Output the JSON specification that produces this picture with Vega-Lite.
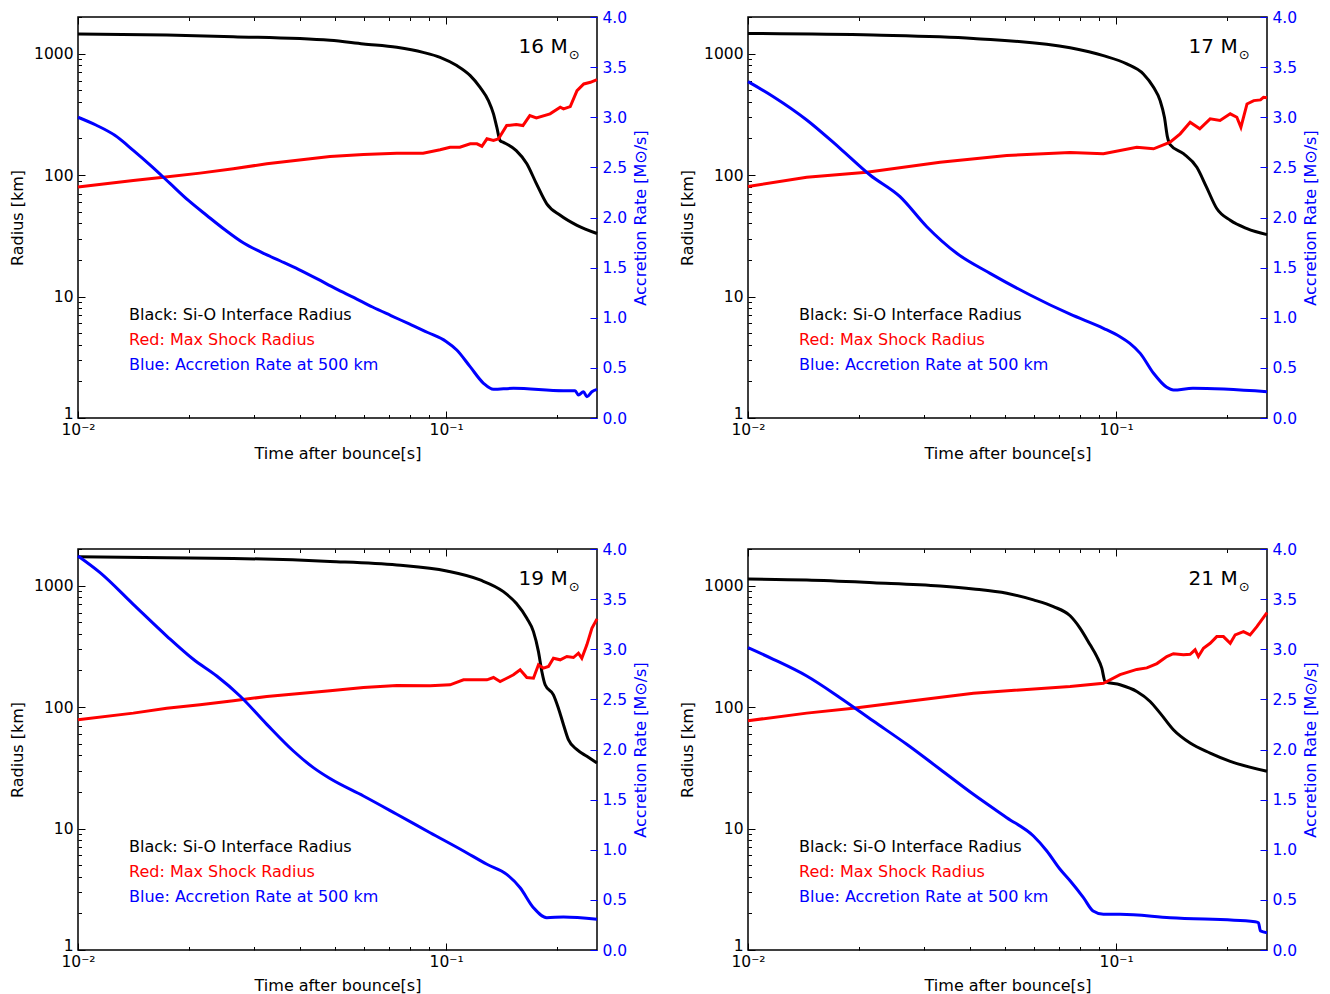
{
"$schema":"https://vega.github.io/schema/vega-lite/v6.json",
"padding":{"left":8,"top":9,"right":5,"bottom":5},
"background":"white",
"datasets":{
"curves":[
{"p":16,"s":"si","t":0.01,"v":1449},{"p":16,"s":"si","t":0.01742,"v":1422},{"p":16,"s":"si","t":0.02642,"v":1377},{"p":16,"s":"si","t":0.04837,"v":1285},{"p":16,"s":"si","t":0.05963,"v":1199},{"p":16,"s":"si","t":0.07346,"v":1125},{"p":16,"s":"si","t":0.0866,"v":1023},{"p":16,"s":"si","t":0.09631,"v":931},{"p":16,"s":"si","t":0.1069,"v":796},{"p":16,"s":"si","t":0.1163,"v":658},{"p":16,"s":"si","t":0.1237,"v":527},{"p":16,"s":"si","t":0.1303,"v":410},{"p":16,"s":"si","t":0.1345,"v":319},{"p":16,"s":"si","t":0.1373,"v":248},{"p":16,"s":"si","t":0.1402,"v":192},{"p":16,"s":"si","t":0.1431,"v":186},{"p":16,"s":"si","t":0.1551,"v":159},{"p":16,"s":"si","t":0.1657,"v":124},{"p":16,"s":"si","t":0.1759,"v":85},{"p":16,"s":"si","t":0.1877,"v":58},{"p":16,"s":"si","t":0.2042,"v":46.6},{"p":16,"s":"si","t":0.2268,"v":38.5},{"p":16,"s":"si","t":0.257,"v":33},
{"p":16,"s":"shock","t":0.01,"v":79.6},{"p":16,"s":"shock","t":0.01413,"v":90.3},{"p":16,"s":"shock","t":0.01705,"v":96.1},{"p":16,"s":"shock","t":0.02145,"v":103.7},{"p":16,"s":"shock","t":0.02642,"v":112.7},{"p":16,"s":"shock","t":0.03258,"v":123.8},{"p":16,"s":"shock","t":0.04837,"v":142.2},{"p":16,"s":"shock","t":0.05963,"v":147.6},{"p":16,"s":"shock","t":0.07346,"v":151.4},{"p":16,"s":"shock","t":0.0866,"v":151.4},{"p":16,"s":"shock","t":0.09631,"v":161.4},{"p":16,"s":"shock","t":0.1025,"v":169.5},{"p":16,"s":"shock","t":0.109,"v":169.5},{"p":16,"s":"shock","t":0.1163,"v":180.7},{"p":16,"s":"shock","t":0.1213,"v":180.7},{"p":16,"s":"shock","t":0.1251,"v":172.7},{"p":16,"s":"shock","t":0.1291,"v":198.8},{"p":16,"s":"shock","t":0.1345,"v":192.4},{"p":16,"s":"shock","t":0.1388,"v":198.8},{"p":16,"s":"shock","t":0.1461,"v":255.6},{"p":16,"s":"shock","t":0.1551,"v":260.6},{"p":16,"s":"shock","t":0.1617,"v":255.6},{"p":16,"s":"shock","t":0.1688,"v":309},{"p":16,"s":"shock","t":0.1759,"v":295.8},{"p":16,"s":"shock","t":0.1916,"v":319},{"p":16,"s":"shock","t":0.2042,"v":361.6},{"p":16,"s":"shock","t":0.2084,"v":350.6},{"p":16,"s":"shock","t":0.2174,"v":366},{"p":16,"s":"shock","t":0.2268,"v":495.5},{"p":16,"s":"shock","t":0.2366,"v":562},{"p":16,"s":"shock","t":0.2467,"v":580},{"p":16,"s":"shock","t":0.257,"v":611},
{"p":16,"s":"acc","t":0.01,"v":3.0},{"p":16,"s":"acc","t":0.01122,"v":2.92},{"p":16,"s":"acc","t":0.01259,"v":2.82},{"p":16,"s":"acc","t":0.01413,"v":2.67},{"p":16,"s":"acc","t":0.01585,"v":2.51},{"p":16,"s":"acc","t":0.01778,"v":2.34},{"p":16,"s":"acc","t":0.01995,"v":2.17},{"p":16,"s":"acc","t":0.02239,"v":2.02},{"p":16,"s":"acc","t":0.02512,"v":1.875},{"p":16,"s":"acc","t":0.02818,"v":1.745},{"p":16,"s":"acc","t":0.03162,"v":1.65},{"p":16,"s":"acc","t":0.03548,"v":1.566},{"p":16,"s":"acc","t":0.03981,"v":1.48},{"p":16,"s":"acc","t":0.04467,"v":1.387},{"p":16,"s":"acc","t":0.05012,"v":1.29},{"p":16,"s":"acc","t":0.05623,"v":1.2},{"p":16,"s":"acc","t":0.0631,"v":1.107},{"p":16,"s":"acc","t":0.07079,"v":1.022},{"p":16,"s":"acc","t":0.07943,"v":0.938},{"p":16,"s":"acc","t":0.08913,"v":0.853},{"p":16,"s":"acc","t":0.1,"v":0.763},{"p":16,"s":"acc","t":0.1069,"v":0.678},{"p":16,"s":"acc","t":0.1162,"v":0.512},{"p":16,"s":"acc","t":0.1264,"v":0.346},{"p":16,"s":"acc","t":0.1345,"v":0.286},{"p":16,"s":"acc","t":0.1524,"v":0.296},{"p":16,"s":"acc","t":0.2084,"v":0.272},{"p":16,"s":"acc","t":0.2241,"v":0.272},{"p":16,"s":"acc","t":0.2288,"v":0.229},{"p":16,"s":"acc","t":0.2361,"v":0.262},{"p":16,"s":"acc","t":0.2412,"v":0.212},{"p":16,"s":"acc","t":0.2489,"v":0.262},{"p":16,"s":"acc","t":0.257,"v":0.286},
{"p":17,"s":"si","t":0.01,"v":1466},{"p":17,"s":"si","t":0.0219,"v":1422},{"p":17,"s":"si","t":0.04095,"v":1333},{"p":17,"s":"si","t":0.07499,"v":1115},{"p":17,"s":"si","t":0.09237,"v":961},{"p":17,"s":"si","t":0.1069,"v":822},{"p":17,"s":"si","t":0.1186,"v":679},{"p":17,"s":"si","t":0.1264,"v":527},{"p":17,"s":"si","t":0.1317,"v":410},{"p":17,"s":"si","t":0.1353,"v":299},{"p":17,"s":"si","t":0.1379,"v":205},{"p":17,"s":"si","t":0.1402,"v":178},{"p":17,"s":"si","t":0.1524,"v":150},{"p":17,"s":"si","t":0.1657,"v":116},{"p":17,"s":"si","t":0.1759,"v":80},{"p":17,"s":"si","t":0.1877,"v":53},{"p":17,"s":"si","t":0.2042,"v":42.4},{"p":17,"s":"si","t":0.2268,"v":36.2},{"p":17,"s":"si","t":0.257,"v":32.3},
{"p":17,"s":"shock","t":0.01,"v":80.6},{"p":17,"s":"shock","t":0.01444,"v":96.1},{"p":17,"s":"shock","t":0.02102,"v":105.6},{"p":17,"s":"shock","t":0.03325,"v":127.7},{"p":17,"s":"shock","t":0.05047,"v":144.9},{"p":17,"s":"shock","t":0.07499,"v":153},{"p":17,"s":"shock","t":0.09237,"v":149.6},{"p":17,"s":"shock","t":0.1138,"v":169.5},{"p":17,"s":"shock","t":0.1264,"v":164.4},{"p":17,"s":"shock","t":0.1402,"v":186.3},{"p":17,"s":"shock","t":0.1493,"v":218.4},{"p":17,"s":"shock","t":0.1589,"v":272.2},{"p":17,"s":"shock","t":0.1688,"v":240},{"p":17,"s":"shock","t":0.1801,"v":290},{"p":17,"s":"shock","t":0.1916,"v":281},{"p":17,"s":"shock","t":0.2042,"v":319},{"p":17,"s":"shock","t":0.2128,"v":299},{"p":17,"s":"shock","t":0.2183,"v":247.6},{"p":17,"s":"shock","t":0.2268,"v":385},{"p":17,"s":"shock","t":0.2366,"v":410},{"p":17,"s":"shock","t":0.2467,"v":415.6},{"p":17,"s":"shock","t":0.2514,"v":436.5},{"p":17,"s":"shock","t":0.257,"v":432},
{"p":17,"s":"acc","t":0.01,"v":3.355},{"p":17,"s":"acc","t":0.01172,"v":3.205},{"p":17,"s":"acc","t":0.01444,"v":2.973},{"p":17,"s":"acc","t":0.01778,"v":2.69},{"p":17,"s":"acc","t":0.02145,"v":2.424},{"p":17,"s":"acc","t":0.02588,"v":2.208},{"p":17,"s":"acc","t":0.0306,"v":1.908},{"p":17,"s":"acc","t":0.0369,"v":1.643},{"p":17,"s":"acc","t":0.04546,"v":1.443},{"p":17,"s":"acc","t":0.05839,"v":1.227},{"p":17,"s":"acc","t":0.07499,"v":1.035},{"p":17,"s":"acc","t":0.09237,"v":0.895},{"p":17,"s":"acc","t":0.1025,"v":0.811},{"p":17,"s":"acc","t":0.109,"v":0.745},{"p":17,"s":"acc","t":0.1163,"v":0.645},{"p":17,"s":"acc","t":0.1264,"v":0.446},{"p":17,"s":"acc","t":0.1373,"v":0.306},{"p":17,"s":"acc","t":0.1431,"v":0.279},{"p":17,"s":"acc","t":0.1617,"v":0.296},{"p":17,"s":"acc","t":0.257,"v":0.262},
{"p":19,"s":"si","t":0.01,"v":1728},{"p":19,"s":"si","t":0.01742,"v":1695},{"p":19,"s":"si","t":0.02642,"v":1673},{"p":19,"s":"si","t":0.04837,"v":1580},{"p":19,"s":"si","t":0.07346,"v":1476},{"p":19,"s":"si","t":0.1004,"v":1318},{"p":19,"s":"si","t":0.1237,"v":1112},{"p":19,"s":"si","t":0.1431,"v":891},{"p":19,"s":"si","t":0.1551,"v":714},{"p":19,"s":"si","t":0.1657,"v":538},{"p":19,"s":"si","t":0.1727,"v":418},{"p":19,"s":"si","t":0.1782,"v":286},{"p":19,"s":"si","t":0.182,"v":196},{"p":19,"s":"si","t":0.1858,"v":152.5},{"p":19,"s":"si","t":0.1957,"v":126.2},{"p":19,"s":"si","t":0.2019,"v":97.9},{"p":19,"s":"si","t":0.2084,"v":71.5},{"p":19,"s":"si","t":0.2149,"v":53.9},{"p":19,"s":"si","t":0.2268,"v":44.6},{"p":19,"s":"si","t":0.2412,"v":39.3},{"p":19,"s":"si","t":0.257,"v":34.6},
{"p":19,"s":"shock","t":0.01,"v":78.7},{"p":19,"s":"shock","t":0.01413,"v":89.1},{"p":19,"s":"shock","t":0.01742,"v":97.9},{"p":19,"s":"shock","t":0.02145,"v":104.4},{"p":19,"s":"shock","t":0.02642,"v":112.6},{"p":19,"s":"shock","t":0.03258,"v":122.2},{"p":19,"s":"shock","t":0.04837,"v":136.1},{"p":19,"s":"shock","t":0.05963,"v":144.9},{"p":19,"s":"shock","t":0.07346,"v":150.4},{"p":19,"s":"shock","t":0.09049,"v":149.6},{"p":19,"s":"shock","t":0.1025,"v":152.5},{"p":19,"s":"shock","t":0.1115,"v":167.6},{"p":19,"s":"shock","t":0.1291,"v":167.6},{"p":19,"s":"shock","t":0.1345,"v":175},{"p":19,"s":"shock","t":0.1402,"v":162.3},{"p":19,"s":"shock","t":0.1461,"v":172.7},{"p":19,"s":"shock","t":0.1524,"v":184.2},{"p":19,"s":"shock","t":0.1589,"v":202.6},{"p":19,"s":"shock","t":0.1657,"v":175},{"p":19,"s":"shock","t":0.1727,"v":172.7},{"p":19,"s":"shock","t":0.1782,"v":222.6},{"p":19,"s":"shock","t":0.1838,"v":208.8},{"p":19,"s":"shock","t":0.1897,"v":215.7},{"p":19,"s":"shock","t":0.1957,"v":252.5},{"p":19,"s":"shock","t":0.2042,"v":244.8},{"p":19,"s":"shock","t":0.2128,"v":260.6},{"p":19,"s":"shock","t":0.2218,"v":255.6},{"p":19,"s":"shock","t":0.2288,"v":277.3},{"p":19,"s":"shock","t":0.2337,"v":252.5},{"p":19,"s":"shock","t":0.2412,"v":325},{"p":19,"s":"shock","t":0.2489,"v":444.7},{"p":19,"s":"shock","t":0.257,"v":531.6},
{"p":19,"s":"acc","t":0.01,"v":3.93},{"p":19,"s":"acc","t":0.01148,"v":3.764},{"p":19,"s":"acc","t":0.01413,"v":3.448},{"p":19,"s":"acc","t":0.01742,"v":3.132},{"p":19,"s":"acc","t":0.02057,"v":2.9},{"p":19,"s":"acc","t":0.02382,"v":2.733},{"p":19,"s":"acc","t":0.02755,"v":2.534},{"p":19,"s":"acc","t":0.03258,"v":2.251},{"p":19,"s":"acc","t":0.03847,"v":1.985},{"p":19,"s":"acc","t":0.04359,"v":1.819},{"p":19,"s":"acc","t":0.04837,"v":1.71},{"p":19,"s":"acc","t":0.05963,"v":1.536},{"p":19,"s":"acc","t":0.07346,"v":1.354},{"p":19,"s":"acc","t":0.09049,"v":1.17},{"p":19,"s":"acc","t":0.1115,"v":0.988},{"p":19,"s":"acc","t":0.1291,"v":0.855},{"p":19,"s":"acc","t":0.1461,"v":0.755},{"p":19,"s":"acc","t":0.1589,"v":0.621},{"p":19,"s":"acc","t":0.1727,"v":0.422},{"p":19,"s":"acc","t":0.1877,"v":0.322},{"p":19,"s":"acc","t":0.2084,"v":0.329},{"p":19,"s":"acc","t":0.257,"v":0.306},
{"p":21,"s":"si","t":0.01,"v":1133},{"p":21,"s":"si","t":0.01444,"v":1112},{"p":21,"s":"si","t":0.0219,"v":1057},{"p":21,"s":"si","t":0.03325,"v":993},{"p":21,"s":"si","t":0.04095,"v":938},{"p":21,"s":"si","t":0.05047,"v":863},{"p":21,"s":"si","t":0.05963,"v":762},{"p":21,"s":"si","t":0.06755,"v":671},{"p":21,"s":"si","t":0.07499,"v":564},{"p":21,"s":"si","t":0.07986,"v":445},{"p":21,"s":"si","t":0.08501,"v":325},{"p":21,"s":"si","t":0.0886,"v":261},{"p":21,"s":"si","t":0.09145,"v":209},{"p":21,"s":"si","t":0.09336,"v":162},{"p":21,"s":"si","t":0.1025,"v":152.5},{"p":21,"s":"si","t":0.1138,"v":134.3},{"p":21,"s":"si","t":0.1237,"v":111.2},{"p":21,"s":"si","t":0.1317,"v":89.1},{"p":21,"s":"si","t":0.1431,"v":65},{"p":21,"s":"si","t":0.1589,"v":50.5},{"p":21,"s":"si","t":0.1801,"v":41.8},{"p":21,"s":"si","t":0.2042,"v":35.7},{"p":21,"s":"si","t":0.257,"v":29.6},
{"p":21,"s":"shock","t":0.01,"v":77.2},{"p":21,"s":"shock","t":0.01444,"v":89.1},{"p":21,"s":"shock","t":0.01932,"v":97.9},{"p":21,"s":"shock","t":0.02699,"v":111.2},{"p":21,"s":"shock","t":0.04095,"v":130},{"p":21,"s":"shock","t":0.07499,"v":147.6},{"p":21,"s":"shock","t":0.09237,"v":157},{"p":21,"s":"shock","t":0.1025,"v":185},{"p":21,"s":"shock","t":0.1138,"v":204},{"p":21,"s":"shock","t":0.1212,"v":210},{"p":21,"s":"shock","t":0.1291,"v":228},{"p":21,"s":"shock","t":0.1373,"v":260.6},{"p":21,"s":"shock","t":0.1431,"v":275},{"p":21,"s":"shock","t":0.1524,"v":269},{"p":21,"s":"shock","t":0.1589,"v":272},{"p":21,"s":"shock","t":0.1639,"v":296},{"p":21,"s":"shock","t":0.1673,"v":261},{"p":21,"s":"shock","t":0.1727,"v":305},{"p":21,"s":"shock","t":0.1801,"v":335},{"p":21,"s":"shock","t":0.1877,"v":380},{"p":21,"s":"shock","t":0.1957,"v":380},{"p":21,"s":"shock","t":0.2042,"v":335},{"p":21,"s":"shock","t":0.2106,"v":393},{"p":21,"s":"shock","t":0.2218,"v":418},{"p":21,"s":"shock","t":0.2312,"v":393},{"p":21,"s":"shock","t":0.2412,"v":459},{"p":21,"s":"shock","t":0.257,"v":600},
{"p":21,"s":"acc","t":0.01,"v":3.016},{"p":21,"s":"acc","t":0.01172,"v":2.9},{"p":21,"s":"acc","t":0.01444,"v":2.733},{"p":21,"s":"acc","t":0.01778,"v":2.517},{"p":21,"s":"acc","t":0.0219,"v":2.284},{"p":21,"s":"acc","t":0.02699,"v":2.052},{"p":21,"s":"acc","t":0.03325,"v":1.803},{"p":21,"s":"acc","t":0.04095,"v":1.553},{"p":21,"s":"acc","t":0.05047,"v":1.32},{"p":21,"s":"acc","t":0.05963,"v":1.137},{"p":21,"s":"acc","t":0.06483,"v":0.988},{"p":21,"s":"acc","t":0.07043,"v":0.805},{"p":21,"s":"acc","t":0.07499,"v":0.69},{"p":21,"s":"acc","t":0.08152,"v":0.522},{"p":21,"s":"acc","t":0.0866,"v":0.389},{"p":21,"s":"acc","t":0.09237,"v":0.356},{"p":21,"s":"acc","t":0.1025,"v":0.356},{"p":21,"s":"acc","t":0.1402,"v":0.322},{"p":21,"s":"acc","t":0.2386,"v":0.282},{"p":21,"s":"acc","t":0.2436,"v":0.272},{"p":21,"s":"acc","t":0.2467,"v":0.19},{"p":21,"s":"acc","t":0.257,"v":0.173}
],
"legend":[
{"s":"si","t":0.01376,"a":0.9726,"label":"Black: Si-O Interface Radius"},
{"s":"shock","t":0.01376,"a":0.728,"label":"Red: Max Shock Radius"},
{"s":"acc","t":0.01376,"a":0.479,"label":"Blue: Accretion Rate at 500 km"}
],
"titles":[
{"p":16,"label":"16 M","t":0.2139,"a":3.641,"ts":0.2153,"as":3.586},
{"p":17,"label":"17 M","t":0.2139,"a":3.641,"ts":0.2153,"as":3.586},
{"p":19,"label":"19 M","t":0.2139,"a":3.641,"ts":0.2153,"as":3.586},
{"p":21,"label":"21 M","t":0.2139,"a":3.641,"ts":0.2153,"as":3.586}
]
},
"columns":2,
"bounds":"flush",
"spacing":{"row":131,"column":151},
"concat":[
{"width":519,"height":401,"resolve":{"scale":{"y":"independent"},"axis":{"x":"independent"}},
"layer":[
{"data":{"name":"curves"},"transform":[{"filter":"datum.p==16 && datum.s=='si'"}],"mark":{"type":"line","color":"#000000","strokeWidth":3,"interpolate":"monotone"},
"encoding":{"x":{"field":"t","type":"quantitative","scale":{"type":"log","domain":[0.01,0.257]},"axis":{"orient":"bottom","values":[0.01,0.02,0.03,0.04,0.05,0.06,0.07,0.08,0.09,0.1,0.2],"labelExpr":"datum.value==0.01?'10⁻²':(datum.value==0.1?'10⁻¹':'')","tickSize":{"condition":{"test":"datum.value==0.01||datum.value==0.1","value":-7},"value":-3.5},"title":"Time after bounce[s]","labelFlush":false,"labelOverlap":false,"labelPadding":11,"titlePadding":4,"domain":false,"grid":false}},
"y":{"field":"v","type":"quantitative","scale":{"type":"log","domain":[1,2000]},"axis":{"orient":"left","values":[1,2,3,4,5,6,7,8,9,10,20,30,40,50,60,70,80,90,100,200,300,400,500,600,700,800,900,1000,2000],"labelExpr":"(datum.value==1||datum.value==10||datum.value==100||datum.value==1000)?datum.value+'':''","labelBaseline":{"condition":{"test":"datum.value==1","value":"alphabetic"},"value":"middle"},"tickSize":{"condition":{"test":"datum.value==1||datum.value==10||datum.value==100||datum.value==1000","value":-7},"value":-3.5},"title":"Radius [km]","labelOverlap":false,"labelFlush":false,"labelPadding":12,"titlePadding":8,"domain":false,"grid":false}}}},
{"data":{"name":"curves"},"transform":[{"filter":"datum.p==16 && datum.s=='shock'"}],"mark":{"type":"line","color":"#ff0000","strokeWidth":3},
"encoding":{"x":{"field":"t","type":"quantitative","scale":{"type":"log","domain":[0.01,0.257]},"axis":null},"y":{"field":"v","type":"quantitative","scale":{"type":"log","domain":[1,2000]},"axis":null}}},
{"data":{"name":"curves"},"transform":[{"filter":"datum.p==16 && datum.s=='acc'"}],"mark":{"type":"line","color":"#0000ff","strokeWidth":3,"interpolate":"monotone"},
"encoding":{"x":{"field":"t","type":"quantitative","scale":{"type":"log","domain":[0.01,0.257]},"axis":{"orient":"top","values":[0.01,0.02,0.03,0.04,0.05,0.06,0.07,0.08,0.09,0.1,0.2],"labels":false,"title":null,"tickSize":{"condition":{"test":"datum.value==0.01||datum.value==0.1","value":-7},"value":-3.5},"domain":false,"grid":false}},
"y":{"field":"v","type":"quantitative","scale":{"type":"linear","domain":[0,4]},"axis":{"orient":"right","values":[0,0.5,1,1.5,2,2.5,3,3.5,4],"format":".1f","tickSize":-7,"tickColor":"#0000ff","labelColor":"#0000ff","title":"Accretion Rate [M⊙/s]","titleColor":"#0000ff","titleAngle":270,"titleBaseline":"top","labelPadding":12,"titlePadding":6,"domain":false,"grid":false,"labelFlush":false,"labelOverlap":false}}}},
{"data":{"name":"legend"},"mark":{"type":"text","align":"left","baseline":"alphabetic","fontSize":16,"font":"DejaVu Sans"},
"encoding":{"x":{"field":"t","type":"quantitative","scale":{"type":"log","domain":[0.01,0.257]},"axis":null},"y":{"field":"a","type":"quantitative","scale":{"type":"linear","domain":[0,4]},"axis":null},"text":{"field":"label"},"color":{"field":"s","type":"nominal","scale":{"domain":["si","shock","acc"],"range":["#000000","#ff0000","#0000ff"]},"legend":null}}},
{"data":{"name":"titles"},"transform":[{"filter":"datum.p==16"}],"mark":{"type":"text","align":"right","baseline":"alphabetic","fontSize":20,"font":"DejaVu Sans","color":"#000000"},
"encoding":{"x":{"field":"t","type":"quantitative","scale":{"type":"log","domain":[0.01,0.257]},"axis":null},"y":{"field":"a","type":"quantitative","scale":{"type":"linear","domain":[0,4]},"axis":null},"text":{"field":"label"}}},
{"data":{"name":"titles"},"transform":[{"filter":"datum.p==16"}],"mark":{"type":"text","align":"left","baseline":"alphabetic","fontSize":13,"font":"DejaVu Sans","color":"#000000"},
"encoding":{"x":{"field":"ts","type":"quantitative","scale":{"type":"log","domain":[0.01,0.257]},"axis":null},"y":{"field":"as","type":"quantitative","scale":{"type":"linear","domain":[0,4]},"axis":null},"text":{"value":"⊙"}}}
]},
{"width":519,"height":401,"resolve":{"scale":{"y":"independent"},"axis":{"x":"independent"}},
"layer":[
{"data":{"name":"curves"},"transform":[{"filter":"datum.p==17 && datum.s=='si'"}],"mark":{"type":"line","color":"#000000","strokeWidth":3,"interpolate":"monotone"},
"encoding":{"x":{"field":"t","type":"quantitative","scale":{"type":"log","domain":[0.01,0.257]},"axis":{"orient":"bottom","values":[0.01,0.02,0.03,0.04,0.05,0.06,0.07,0.08,0.09,0.1,0.2],"labelExpr":"datum.value==0.01?'10⁻²':(datum.value==0.1?'10⁻¹':'')","tickSize":{"condition":{"test":"datum.value==0.01||datum.value==0.1","value":-7},"value":-3.5},"title":"Time after bounce[s]","labelFlush":false,"labelOverlap":false,"labelPadding":11,"titlePadding":4,"domain":false,"grid":false}},
"y":{"field":"v","type":"quantitative","scale":{"type":"log","domain":[1,2000]},"axis":{"orient":"left","values":[1,2,3,4,5,6,7,8,9,10,20,30,40,50,60,70,80,90,100,200,300,400,500,600,700,800,900,1000,2000],"labelExpr":"(datum.value==1||datum.value==10||datum.value==100||datum.value==1000)?datum.value+'':''","labelBaseline":{"condition":{"test":"datum.value==1","value":"alphabetic"},"value":"middle"},"tickSize":{"condition":{"test":"datum.value==1||datum.value==10||datum.value==100||datum.value==1000","value":-7},"value":-3.5},"title":"Radius [km]","labelOverlap":false,"labelFlush":false,"labelPadding":12,"titlePadding":8,"domain":false,"grid":false}}}},
{"data":{"name":"curves"},"transform":[{"filter":"datum.p==17 && datum.s=='shock'"}],"mark":{"type":"line","color":"#ff0000","strokeWidth":3},
"encoding":{"x":{"field":"t","type":"quantitative","scale":{"type":"log","domain":[0.01,0.257]},"axis":null},"y":{"field":"v","type":"quantitative","scale":{"type":"log","domain":[1,2000]},"axis":null}}},
{"data":{"name":"curves"},"transform":[{"filter":"datum.p==17 && datum.s=='acc'"}],"mark":{"type":"line","color":"#0000ff","strokeWidth":3,"interpolate":"monotone"},
"encoding":{"x":{"field":"t","type":"quantitative","scale":{"type":"log","domain":[0.01,0.257]},"axis":{"orient":"top","values":[0.01,0.02,0.03,0.04,0.05,0.06,0.07,0.08,0.09,0.1,0.2],"labels":false,"title":null,"tickSize":{"condition":{"test":"datum.value==0.01||datum.value==0.1","value":-7},"value":-3.5},"domain":false,"grid":false}},
"y":{"field":"v","type":"quantitative","scale":{"type":"linear","domain":[0,4]},"axis":{"orient":"right","values":[0,0.5,1,1.5,2,2.5,3,3.5,4],"format":".1f","tickSize":-7,"tickColor":"#0000ff","labelColor":"#0000ff","title":"Accretion Rate [M⊙/s]","titleColor":"#0000ff","titleAngle":270,"titleBaseline":"top","labelPadding":12,"titlePadding":6,"domain":false,"grid":false,"labelFlush":false,"labelOverlap":false}}}},
{"data":{"name":"legend"},"mark":{"type":"text","align":"left","baseline":"alphabetic","fontSize":16,"font":"DejaVu Sans"},
"encoding":{"x":{"field":"t","type":"quantitative","scale":{"type":"log","domain":[0.01,0.257]},"axis":null},"y":{"field":"a","type":"quantitative","scale":{"type":"linear","domain":[0,4]},"axis":null},"text":{"field":"label"},"color":{"field":"s","type":"nominal","scale":{"domain":["si","shock","acc"],"range":["#000000","#ff0000","#0000ff"]},"legend":null}}},
{"data":{"name":"titles"},"transform":[{"filter":"datum.p==17"}],"mark":{"type":"text","align":"right","baseline":"alphabetic","fontSize":20,"font":"DejaVu Sans","color":"#000000"},
"encoding":{"x":{"field":"t","type":"quantitative","scale":{"type":"log","domain":[0.01,0.257]},"axis":null},"y":{"field":"a","type":"quantitative","scale":{"type":"linear","domain":[0,4]},"axis":null},"text":{"field":"label"}}},
{"data":{"name":"titles"},"transform":[{"filter":"datum.p==17"}],"mark":{"type":"text","align":"left","baseline":"alphabetic","fontSize":13,"font":"DejaVu Sans","color":"#000000"},
"encoding":{"x":{"field":"ts","type":"quantitative","scale":{"type":"log","domain":[0.01,0.257]},"axis":null},"y":{"field":"as","type":"quantitative","scale":{"type":"linear","domain":[0,4]},"axis":null},"text":{"value":"⊙"}}}
]},
{"width":519,"height":401,"resolve":{"scale":{"y":"independent"},"axis":{"x":"independent"}},
"layer":[
{"data":{"name":"curves"},"transform":[{"filter":"datum.p==19 && datum.s=='si'"}],"mark":{"type":"line","color":"#000000","strokeWidth":3,"interpolate":"monotone"},
"encoding":{"x":{"field":"t","type":"quantitative","scale":{"type":"log","domain":[0.01,0.257]},"axis":{"orient":"bottom","values":[0.01,0.02,0.03,0.04,0.05,0.06,0.07,0.08,0.09,0.1,0.2],"labelExpr":"datum.value==0.01?'10⁻²':(datum.value==0.1?'10⁻¹':'')","tickSize":{"condition":{"test":"datum.value==0.01||datum.value==0.1","value":-7},"value":-3.5},"title":"Time after bounce[s]","labelFlush":false,"labelOverlap":false,"labelPadding":11,"titlePadding":4,"domain":false,"grid":false}},
"y":{"field":"v","type":"quantitative","scale":{"type":"log","domain":[1,2000]},"axis":{"orient":"left","values":[1,2,3,4,5,6,7,8,9,10,20,30,40,50,60,70,80,90,100,200,300,400,500,600,700,800,900,1000,2000],"labelExpr":"(datum.value==1||datum.value==10||datum.value==100||datum.value==1000)?datum.value+'':''","labelBaseline":{"condition":{"test":"datum.value==1","value":"alphabetic"},"value":"middle"},"tickSize":{"condition":{"test":"datum.value==1||datum.value==10||datum.value==100||datum.value==1000","value":-7},"value":-3.5},"title":"Radius [km]","labelOverlap":false,"labelFlush":false,"labelPadding":12,"titlePadding":8,"domain":false,"grid":false}}}},
{"data":{"name":"curves"},"transform":[{"filter":"datum.p==19 && datum.s=='shock'"}],"mark":{"type":"line","color":"#ff0000","strokeWidth":3},
"encoding":{"x":{"field":"t","type":"quantitative","scale":{"type":"log","domain":[0.01,0.257]},"axis":null},"y":{"field":"v","type":"quantitative","scale":{"type":"log","domain":[1,2000]},"axis":null}}},
{"data":{"name":"curves"},"transform":[{"filter":"datum.p==19 && datum.s=='acc'"}],"mark":{"type":"line","color":"#0000ff","strokeWidth":3,"interpolate":"monotone"},
"encoding":{"x":{"field":"t","type":"quantitative","scale":{"type":"log","domain":[0.01,0.257]},"axis":{"orient":"top","values":[0.01,0.02,0.03,0.04,0.05,0.06,0.07,0.08,0.09,0.1,0.2],"labels":false,"title":null,"tickSize":{"condition":{"test":"datum.value==0.01||datum.value==0.1","value":-7},"value":-3.5},"domain":false,"grid":false}},
"y":{"field":"v","type":"quantitative","scale":{"type":"linear","domain":[0,4]},"axis":{"orient":"right","values":[0,0.5,1,1.5,2,2.5,3,3.5,4],"format":".1f","tickSize":-7,"tickColor":"#0000ff","labelColor":"#0000ff","title":"Accretion Rate [M⊙/s]","titleColor":"#0000ff","titleAngle":270,"titleBaseline":"top","labelPadding":12,"titlePadding":6,"domain":false,"grid":false,"labelFlush":false,"labelOverlap":false}}}},
{"data":{"name":"legend"},"mark":{"type":"text","align":"left","baseline":"alphabetic","fontSize":16,"font":"DejaVu Sans"},
"encoding":{"x":{"field":"t","type":"quantitative","scale":{"type":"log","domain":[0.01,0.257]},"axis":null},"y":{"field":"a","type":"quantitative","scale":{"type":"linear","domain":[0,4]},"axis":null},"text":{"field":"label"},"color":{"field":"s","type":"nominal","scale":{"domain":["si","shock","acc"],"range":["#000000","#ff0000","#0000ff"]},"legend":null}}},
{"data":{"name":"titles"},"transform":[{"filter":"datum.p==19"}],"mark":{"type":"text","align":"right","baseline":"alphabetic","fontSize":20,"font":"DejaVu Sans","color":"#000000"},
"encoding":{"x":{"field":"t","type":"quantitative","scale":{"type":"log","domain":[0.01,0.257]},"axis":null},"y":{"field":"a","type":"quantitative","scale":{"type":"linear","domain":[0,4]},"axis":null},"text":{"field":"label"}}},
{"data":{"name":"titles"},"transform":[{"filter":"datum.p==19"}],"mark":{"type":"text","align":"left","baseline":"alphabetic","fontSize":13,"font":"DejaVu Sans","color":"#000000"},
"encoding":{"x":{"field":"ts","type":"quantitative","scale":{"type":"log","domain":[0.01,0.257]},"axis":null},"y":{"field":"as","type":"quantitative","scale":{"type":"linear","domain":[0,4]},"axis":null},"text":{"value":"⊙"}}}
]},
{"width":519,"height":401,"resolve":{"scale":{"y":"independent"},"axis":{"x":"independent"}},
"layer":[
{"data":{"name":"curves"},"transform":[{"filter":"datum.p==21 && datum.s=='si'"}],"mark":{"type":"line","color":"#000000","strokeWidth":3,"interpolate":"monotone"},
"encoding":{"x":{"field":"t","type":"quantitative","scale":{"type":"log","domain":[0.01,0.257]},"axis":{"orient":"bottom","values":[0.01,0.02,0.03,0.04,0.05,0.06,0.07,0.08,0.09,0.1,0.2],"labelExpr":"datum.value==0.01?'10⁻²':(datum.value==0.1?'10⁻¹':'')","tickSize":{"condition":{"test":"datum.value==0.01||datum.value==0.1","value":-7},"value":-3.5},"title":"Time after bounce[s]","labelFlush":false,"labelOverlap":false,"labelPadding":11,"titlePadding":4,"domain":false,"grid":false}},
"y":{"field":"v","type":"quantitative","scale":{"type":"log","domain":[1,2000]},"axis":{"orient":"left","values":[1,2,3,4,5,6,7,8,9,10,20,30,40,50,60,70,80,90,100,200,300,400,500,600,700,800,900,1000,2000],"labelExpr":"(datum.value==1||datum.value==10||datum.value==100||datum.value==1000)?datum.value+'':''","labelBaseline":{"condition":{"test":"datum.value==1","value":"alphabetic"},"value":"middle"},"tickSize":{"condition":{"test":"datum.value==1||datum.value==10||datum.value==100||datum.value==1000","value":-7},"value":-3.5},"title":"Radius [km]","labelOverlap":false,"labelFlush":false,"labelPadding":12,"titlePadding":8,"domain":false,"grid":false}}}},
{"data":{"name":"curves"},"transform":[{"filter":"datum.p==21 && datum.s=='shock'"}],"mark":{"type":"line","color":"#ff0000","strokeWidth":3},
"encoding":{"x":{"field":"t","type":"quantitative","scale":{"type":"log","domain":[0.01,0.257]},"axis":null},"y":{"field":"v","type":"quantitative","scale":{"type":"log","domain":[1,2000]},"axis":null}}},
{"data":{"name":"curves"},"transform":[{"filter":"datum.p==21 && datum.s=='acc'"}],"mark":{"type":"line","color":"#0000ff","strokeWidth":3,"interpolate":"monotone"},
"encoding":{"x":{"field":"t","type":"quantitative","scale":{"type":"log","domain":[0.01,0.257]},"axis":{"orient":"top","values":[0.01,0.02,0.03,0.04,0.05,0.06,0.07,0.08,0.09,0.1,0.2],"labels":false,"title":null,"tickSize":{"condition":{"test":"datum.value==0.01||datum.value==0.1","value":-7},"value":-3.5},"domain":false,"grid":false}},
"y":{"field":"v","type":"quantitative","scale":{"type":"linear","domain":[0,4]},"axis":{"orient":"right","values":[0,0.5,1,1.5,2,2.5,3,3.5,4],"format":".1f","tickSize":-7,"tickColor":"#0000ff","labelColor":"#0000ff","title":"Accretion Rate [M⊙/s]","titleColor":"#0000ff","titleAngle":270,"titleBaseline":"top","labelPadding":12,"titlePadding":6,"domain":false,"grid":false,"labelFlush":false,"labelOverlap":false}}}},
{"data":{"name":"legend"},"mark":{"type":"text","align":"left","baseline":"alphabetic","fontSize":16,"font":"DejaVu Sans"},
"encoding":{"x":{"field":"t","type":"quantitative","scale":{"type":"log","domain":[0.01,0.257]},"axis":null},"y":{"field":"a","type":"quantitative","scale":{"type":"linear","domain":[0,4]},"axis":null},"text":{"field":"label"},"color":{"field":"s","type":"nominal","scale":{"domain":["si","shock","acc"],"range":["#000000","#ff0000","#0000ff"]},"legend":null}}},
{"data":{"name":"titles"},"transform":[{"filter":"datum.p==21"}],"mark":{"type":"text","align":"right","baseline":"alphabetic","fontSize":20,"font":"DejaVu Sans","color":"#000000"},
"encoding":{"x":{"field":"t","type":"quantitative","scale":{"type":"log","domain":[0.01,0.257]},"axis":null},"y":{"field":"a","type":"quantitative","scale":{"type":"linear","domain":[0,4]},"axis":null},"text":{"field":"label"}}},
{"data":{"name":"titles"},"transform":[{"filter":"datum.p==21"}],"mark":{"type":"text","align":"left","baseline":"alphabetic","fontSize":13,"font":"DejaVu Sans","color":"#000000"},
"encoding":{"x":{"field":"ts","type":"quantitative","scale":{"type":"log","domain":[0.01,0.257]},"axis":null},"y":{"field":"as","type":"quantitative","scale":{"type":"linear","domain":[0,4]},"axis":null},"text":{"value":"⊙"}}}
]}
],
"config":{
"font":"DejaVu Sans",
"view":{"stroke":"#000000","strokeWidth":1.5},
"axis":{"labelFont":"DejaVu Sans","titleFont":"DejaVu Sans","labelFontSize":15.5,"titleFontSize":16,"titleFontWeight":"normal","labelColor":"#000000","titleColor":"#000000","tickColor":"#000000","tickWidth":1}
}
}
